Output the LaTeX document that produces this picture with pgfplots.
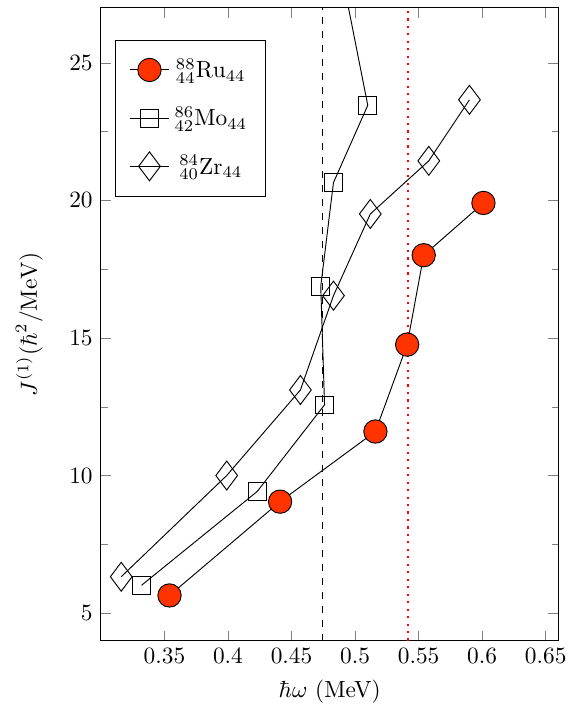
\documentclass[border=0pt]{standalone}
\usepackage{pgfplots}
\pgfplotsset{compat=1.18}
\definecolor{rured}{RGB}{255,51,0}
\begin{document}
\begin{tikzpicture}
\begin{axis}[
  scale only axis,
  width=196pt, height=271pt,
  xmin=0.3, xmax=0.66, ymin=4, ymax=27,
  xtick={0.35,0.4,0.45,0.5,0.55,0.6,0.65},
  ytick={5,10,15,20,25},
  minor ytick={7.5,12.5,17.5,22.5},
  xlabel={$\hbar\omega$ (MeV)},
  ylabel={$J^{(1)} (\hbar^2/\mathrm{MeV})$},
  ylabel shift=4.5pt,
  legend cell align=center,
  legend style={at={(0.03,0.95)}, anchor=north west, row sep=7pt, draw=black,
    inner xsep=6pt, inner ysep=6pt},
]
\addplot[black, mark=*, mark size=5pt, mark options={fill=rured, draw=black}] coordinates {
  (0.354,5.64) (0.441,9.05) (0.516,11.60) (0.541,14.76) (0.554,18.01) (0.601,19.91)
};
\addlegendentry{$^{88}_{44}\mathrm{Ru}_{44}$}
\addplot[black, mark=square, mark size=3.8pt] coordinates {
  (0.332,6.01) (0.423,9.42) (0.476,12.57) (0.473,16.88) (0.483,20.65) (0.510,23.46) (0.482,30)
};
\addlegendentry{$^{86}_{42}\mathrm{Mo}_{44}$}
\addplot[black, mark=diamond, mark size=6.2pt] coordinates {
  (0.316,6.32) (0.399,10.0) (0.457,13.11) (0.483,16.54) (0.512,19.51) (0.558,21.44) (0.590,23.66)
};
\addlegendentry{$^{84}_{40}\mathrm{Zr}_{44}$}
\addplot[black, dashed, forget plot] coordinates {(0.474,4) (0.474,27)};
\addplot[red, line width=0.9pt, dash pattern=on 0.9pt off 2.3pt, forget plot] coordinates {(0.542,4) (0.542,27)};
\end{axis}
\path ([yshift=3.4pt]current axis.north west);
\path ([xshift=-3.5pt]current bounding box.west);
\end{tikzpicture}
\end{document}
